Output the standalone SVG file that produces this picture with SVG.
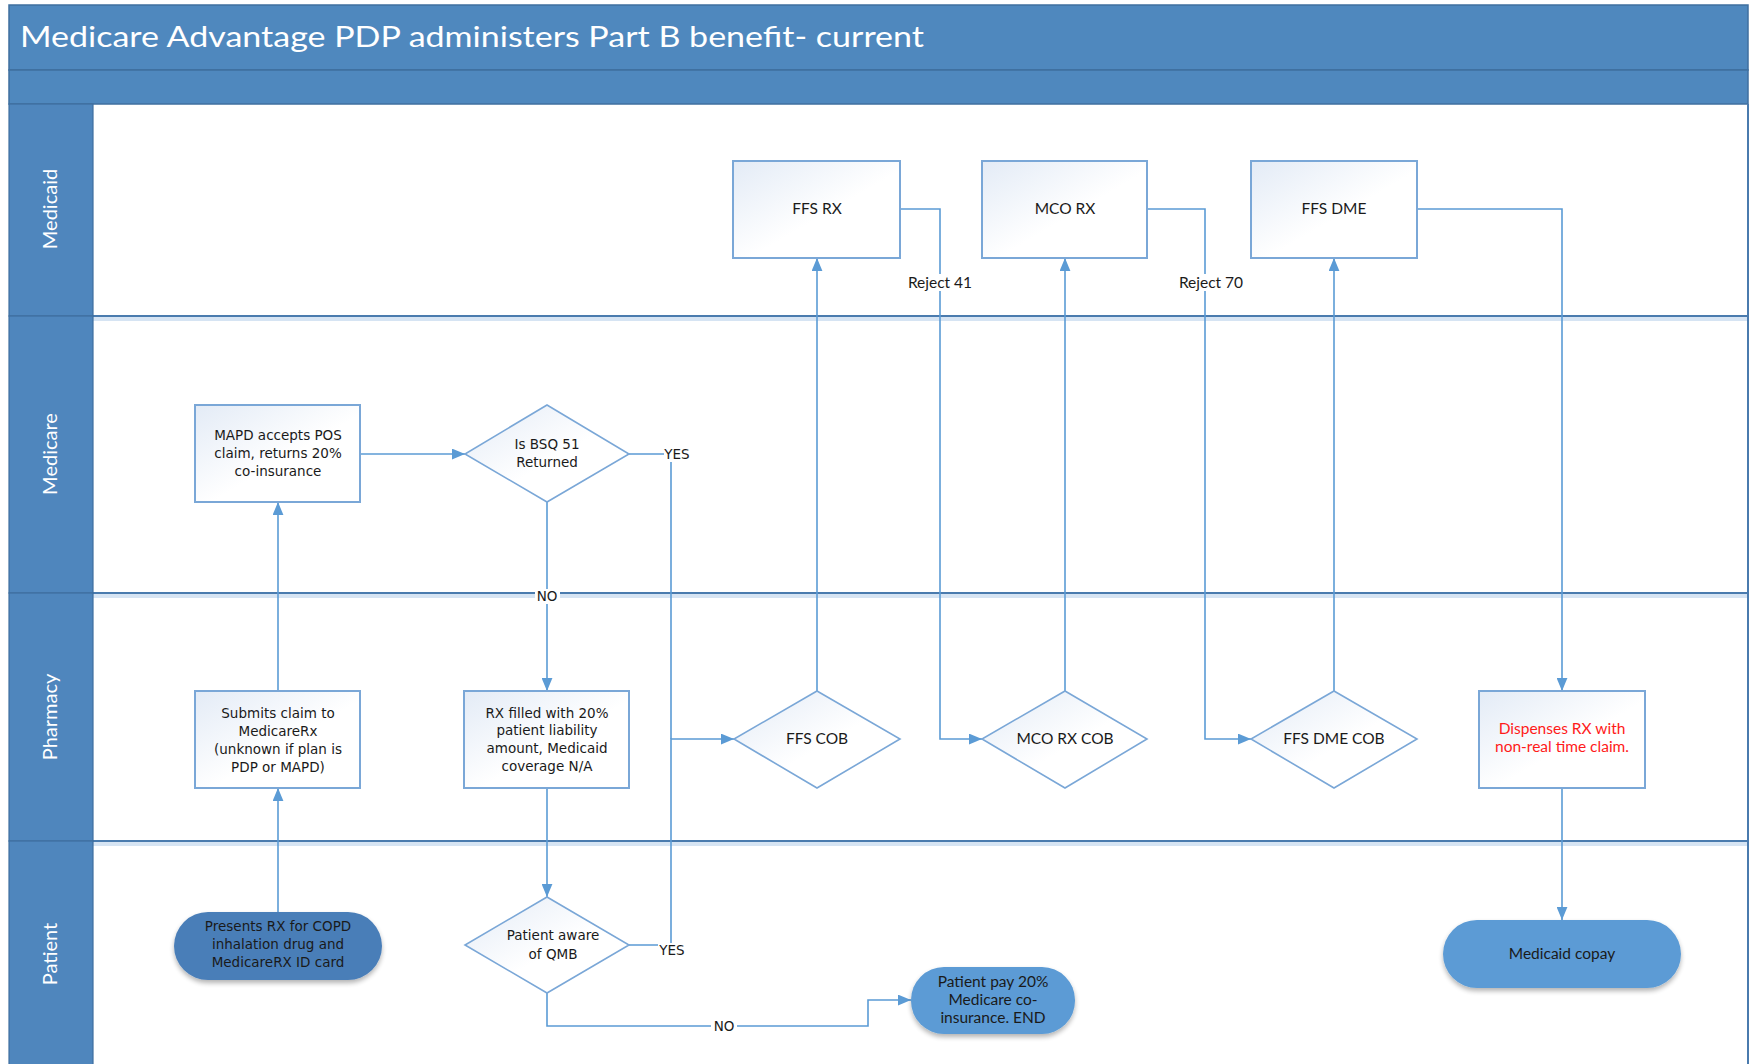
<svg xmlns="http://www.w3.org/2000/svg" width="1750" height="1064" viewBox="0 0 1750 1064">
<style>
.hdr{fill:#4F88BE;stroke:#3F6F9F;stroke-width:1.5}
.lanecol{fill:#4F86BD;stroke:#3F6F9F;stroke-width:1.2}
.lanelbl{font-family:Lato,"Liberation Sans",sans-serif;font-size:20px;fill:#ffffff;text-anchor:middle}
.sep{stroke:#4A7BAE;stroke-width:2;fill:none}
.sepglow{stroke:#D6E4F3;stroke-width:6;fill:none}
.box{fill:url(#boxg);stroke:#7AA7D7;stroke-width:2}
.dia{fill:url(#boxg);stroke:#7AA7D7;stroke-width:1.6}
.pill{fill:#5B9BD5;filter:url(#sh)}
.pilldark{fill:#4A7EB8;filter:url(#sh)}
.t{font-family:"DejaVu Sans",Verdana,sans-serif;font-size:13.5px;fill:#1a1a1a;text-anchor:middle}
.tn{font-family:Lato,"Liberation Sans",sans-serif;font-size:15.5px;fill:#1a1a1a;text-anchor:middle}
.tred{font-family:Lato,"Liberation Sans",sans-serif;font-size:15.5px;fill:#FF1A1A;text-anchor:middle}
.conn{stroke:#5B9BD5;stroke-width:1.6;fill:none}
.lblbg{fill:#ffffff}
</style>
<defs>
<linearGradient id="boxg" x1="0" y1="0" x2="1" y2="1">
<stop offset="0" stop-color="#E3EBF6"/>
<stop offset="0.55" stop-color="#FFFFFF"/>
<stop offset="1" stop-color="#FFFFFF"/>
</linearGradient>
<filter id="sh" x="-20%" y="-20%" width="140%" height="150%">
<feGaussianBlur in="SourceAlpha" stdDeviation="2.5"/>
<feOffset dx="0" dy="3" result="b"/>
<feComponentTransfer><feFuncA type="linear" slope="0.3"/></feComponentTransfer>
<feMerge><feMergeNode/><feMergeNode in="SourceGraphic"/></feMerge>
</filter>
<marker id="arr" markerUnits="userSpaceOnUse" viewBox="0 0 12 10" refX="12" refY="5" markerWidth="13" markerHeight="11" orient="auto">
<path d="M0,0 L12,5 L0,10 z" fill="#5B9BD5"/>
</marker>
</defs>

<rect x="0" y="0" width="1750" height="1064" fill="#ffffff"/>

<g id="header">
<rect class="hdr" x="9" y="5" width="1739" height="65"/>
<rect class="hdr" x="9" y="70" width="1739" height="34"/>
<text x="20" y="47" font-family="Lato,'Liberation Sans',sans-serif" font-size="29" fill="#ffffff" textLength="904" lengthAdjust="spacingAndGlyphs">Medicare Advantage PDP administers Part B benefit- current</text>
</g>

<g id="lanes">
<line class="sepglow" x1="93" y1="318" x2="1748" y2="318"/>
<line class="sepglow" x1="93" y1="595" x2="1748" y2="595"/>
<line class="sepglow" x1="93" y1="843" x2="1748" y2="843"/>
<line class="sep" x1="93" y1="316" x2="1748" y2="316"/>
<line class="sep" x1="93" y1="593" x2="1748" y2="593"/>
<line class="sep" x1="93" y1="841" x2="1748" y2="841"/>
<line class="sep" x1="1748" y1="104" x2="1748" y2="1064"/>
<rect class="lanecol" x="9" y="104" width="84" height="212"/>
<rect class="lanecol" x="9" y="316" width="84" height="277"/>
<rect class="lanecol" x="9" y="593" width="84" height="248"/>
<rect class="lanecol" x="9" y="841" width="84" height="230"/>
<text class="lanelbl" transform="translate(57,209) rotate(-90)">Medicaid</text>
<text class="lanelbl" transform="translate(57,454) rotate(-90)">Medicare</text>
<text class="lanelbl" transform="translate(57,717) rotate(-90)">Pharmacy</text>
<text class="lanelbl" transform="translate(57,954) rotate(-90)">Patient</text>
</g>

<g id="connectors">
<path class="conn" d="M278,912 L278,788" marker-end="url(#arr)"/>
<path class="conn" d="M278,691 L278,502" marker-end="url(#arr)"/>
<path class="conn" d="M360,454 L465,454" marker-end="url(#arr)"/>
<path class="conn" d="M547,502 L547,691" marker-end="url(#arr)"/>
<path class="conn" d="M547,788 L547,897" marker-end="url(#arr)"/>
<path class="conn" d="M629,454 L671,454 L671,739"/>
<path class="conn" d="M629,945 L671,945 L671,739 L734,739" marker-end="url(#arr)"/>
<path class="conn" d="M547,993 L547,1026 L868,1026 L868,1000 L911,1000" marker-end="url(#arr)"/>
<path class="conn" d="M817,691 L817,258" marker-end="url(#arr)"/>
<path class="conn" d="M1065,691 L1065,258" marker-end="url(#arr)"/>
<path class="conn" d="M1334,691 L1334,258" marker-end="url(#arr)"/>
<path class="conn" d="M900,209 L940,209 L940,739 L982,739" marker-end="url(#arr)"/>
<path class="conn" d="M1147,209 L1205,209 L1205,739 L1251,739" marker-end="url(#arr)"/>
<path class="conn" d="M1417,209 L1562,209 L1562,691" marker-end="url(#arr)"/>
<path class="conn" d="M1562,788 L1562,920" marker-end="url(#arr)"/>
<rect class="lblbg" x="904" y="274" width="72" height="17"/>
<text class="tn" x="940" y="288" font-size="14">Reject 41</text>
<rect class="lblbg" x="1175" y="274" width="72" height="17"/>
<text class="tn" x="1211" y="288" font-size="14">Reject 70</text>
<rect class="lblbg" x="664" y="446" width="28" height="16"/>
<text class="t" x="677" y="459" font-size="12.5">YES</text>
<rect class="lblbg" x="535" y="589" width="25" height="15"/>
<text class="t" x="547" y="601" font-size="12.5">NO</text>
<rect class="lblbg" x="658" y="943" width="28" height="16"/>
<text class="t" x="672" y="955" font-size="12.5">YES</text>
<rect class="lblbg" x="711" y="1018" width="26" height="16"/>
<text class="t" x="724" y="1031" font-size="12.5">NO</text>
</g>

<g id="ffs-rx">
<rect class="box" x="733" y="161" width="167" height="97"/>
<text class="tn" x="817" y="214">FFS RX</text>
</g>
<g id="mco-rx">
<rect class="box" x="982" y="161" width="165" height="97"/>
<text class="tn" x="1065" y="214">MCO RX</text>
</g>
<g id="ffs-dme">
<rect class="box" x="1251" y="161" width="166" height="97"/>
<text class="tn" x="1334" y="214">FFS DME</text>
</g>
<g id="mapd">
<rect class="box" x="195" y="405" width="165" height="97"/>
<text class="t" x="278" y="440">MAPD accepts POS</text>
<text class="t" x="278" y="458">claim, returns 20%</text>
<text class="t" x="278" y="476">co-insurance</text>
</g>
<g id="bsq">
<polygon class="dia" points="547,405 629,454 547,502 465,454"/>
<text class="t" x="547" y="449">Is BSQ 51</text>
<text class="t" x="547" y="467">Returned</text>
</g>
<g id="submits">
<rect class="box" x="195" y="691" width="165" height="97"/>
<text class="t" x="278" y="718">Submits claim to</text>
<text class="t" x="278" y="736">MedicareRx</text>
<text class="t" x="278" y="754">(unknown if plan is</text>
<text class="t" x="278" y="772">PDP or MAPD)</text>
</g>
<g id="rx-filled">
<rect class="box" x="464" y="691" width="165" height="97"/>
<text class="t" x="547" y="718">RX filled with 20%</text>
<text class="t" x="547" y="735">patient liability</text>
<text class="t" x="547" y="753">amount, Medicaid</text>
<text class="t" x="547" y="771">coverage N/A</text>
</g>
<g id="ffs-cob">
<polygon class="dia" points="817,691 900,739 817,788 734,739"/>
<text class="tn" x="817" y="744">FFS COB</text>
</g>
<g id="mco-rx-cob">
<polygon class="dia" points="1065,691 1147,739 1065,788 982,739"/>
<text class="tn" x="1065" y="744">MCO RX COB</text>
</g>
<g id="ffs-dme-cob">
<polygon class="dia" points="1334,691 1417,739 1334,788 1251,739"/>
<text class="tn" x="1334" y="744">FFS DME COB</text>
</g>
<g id="dispenses">
<rect class="box" x="1479" y="691" width="166" height="97"/>
<text class="tred" x="1562" y="734">Dispenses RX with</text>
<text class="tred" x="1562" y="752">non-real time claim.</text>
</g>
<g id="presents">
<rect class="pilldark" x="174" y="912" width="208" height="68" rx="34" ry="34"/>
<text class="t" x="278" y="931">Presents RX for COPD</text>
<text class="t" x="278" y="949">inhalation drug and</text>
<text class="t" x="278" y="967">MedicareRX ID card</text>
</g>
<g id="patient-aware">
<polygon class="dia" points="547,897 629,945 547,993 465,945"/>
<text class="t" x="553" y="940">Patient aware</text>
<text class="t" x="553" y="959">of QMB</text>
</g>
<g id="patient-pay">
<rect class="pill" x="911" y="967" width="164" height="67" rx="33" ry="33"/>
<text class="tn" x="993" y="987">Patient pay 20%</text>
<text class="tn" x="993" y="1005">Medicare co-</text>
<text class="tn" x="993" y="1023">insurance. END</text>
</g>
<g id="medicaid-copay">
<rect class="pill" x="1443" y="920" width="238" height="68" rx="34" ry="34"/>
<text class="tn" x="1562" y="959">Medicaid copay</text>
</g>
</svg>
